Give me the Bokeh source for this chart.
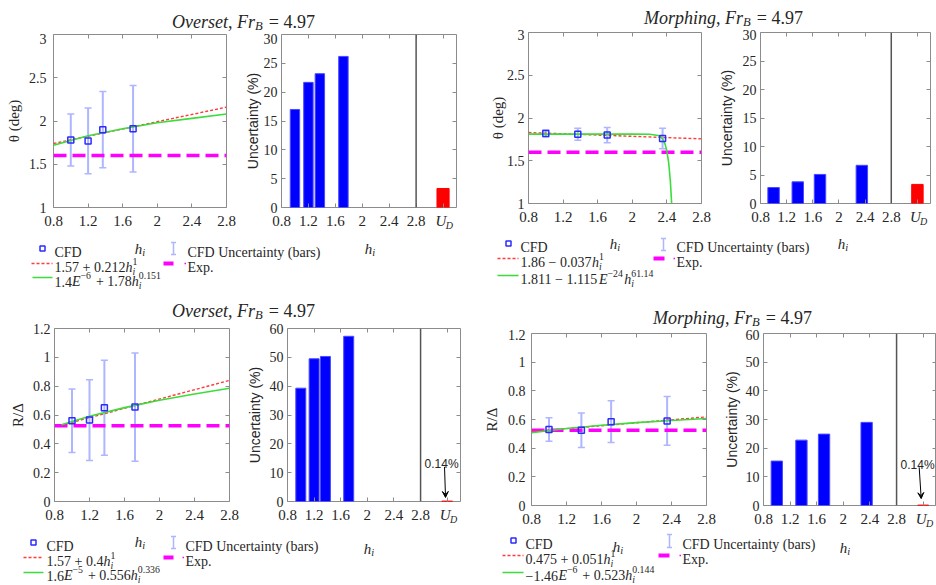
from bokeh.plotting import figure
from bokeh.layouts import row, column
from bokeh.models import (Range1d, FixedTicker, LinearAxis, Label, Whisker, TeeHead,
                          ColumnDataSource, Span, Arrow, VeeHead)
from bokeh.embed import file_html
from bokeh.resources import INLINE

# ---------------- data ----------------
ov_h = [1.0, 1.2, 1.37, 1.72]
ov_theta = [1.78, 1.77, 1.90, 1.91]
ov_theta_unc = [0.30, 0.38, 0.44, 0.50]
ov_theta_pct = [17.0, 21.7, 23.2, 26.2]
ov_theta_ud = [3.3]
ov_theta_fit1_h = [0.8, 2.8]
ov_theta_fit1 = [1.74, 2.16]
ov_theta_fit2_h = [0.8, 1.2, 1.6, 2.0, 2.4, 2.8]
ov_theta_fit2 = [1.72, 1.83, 1.91, 1.98, 2.03, 2.08]

mo_h = [1.0, 1.37, 1.71, 2.35]
mo_theta = [1.82, 1.81, 1.80, 1.76]
mo_theta_unc = [0.04, 0.07, 0.09, 0.12]
mo_theta_pct = [2.8, 3.8, 5.1, 6.7]
mo_theta_ud = [3.35]
mo_theta_fit1_h = [0.8, 2.8]
mo_theta_fit1 = [1.83, 1.756]
mo_theta_fit2_h = [0.8, 1.6, 2.0, 2.2, 2.3, 2.33, 2.35, 2.38, 2.4, 2.42, 2.44, 2.46]
mo_theta_fit2 = [1.811, 1.811, 1.811, 1.810, 1.796, 1.779, 1.756, 1.692, 1.613, 1.482, 1.263, 0.91]

ov_R = [0.56, 0.565, 0.65, 0.655]
ov_R_unc = [0.22, 0.28, 0.33, 0.375]
ov_R_pct = [39.3, 49.5, 50.3, 57.3]
ov_R_ud = [0.14]
ov_R_fit1_h = [0.88, 2.8]
ov_R_fit1 = [0.53, 0.84]
ov_R_fit2_h = [0.88, 1.2, 1.6, 2.0, 2.4, 2.8]
ov_R_fit2 = [0.533, 0.591, 0.651, 0.702, 0.746, 0.786]

mo_R = [0.53, 0.525, 0.585, 0.59]
mo_R_unc = [0.082, 0.12, 0.145, 0.17]
mo_R_pct = [15.5, 22.8, 24.9, 29.0]
mo_R_ud = [0.14]
mo_R_fit1_h = [0.8, 2.8]
mo_R_fit1 = [0.516, 0.618]
mo_R_fit2_h = [0.8, 1.2, 1.6, 2.0, 2.4, 2.8]
mo_R_fit2 = [0.507, 0.537, 0.560, 0.578, 0.593, 0.607]

exp_theta = 1.6
exp_R = 0.525

h_ticks = [0.8, 1.2, 1.6, 2.0, 2.4, 2.8]
h_tick_labels = ["0.8", "1.2", "1.6", "2", "2.4", "2.8"]
ud_tick = 3.2
grid_split = 2.8
theta_ticks = [1.0, 1.5, 2.0, 2.5, 3.0]
theta_tick_labels = ["1", "1.5", "2", "2.5", "3"]
R_ticks = [0.0, 0.2, 0.4, 0.6, 0.8, 1.0, 1.2]
R_tick_labels = ["0", "0.2", "0.4", "0.6", "0.8", "1", "1.2"]
pct30_ticks = [0, 5, 10, 15, 20, 25, 30]
pct60_ticks = [0, 10, 20, 30, 40, 50, 60]
ud_note = "0.14%"

# ---------------- styling ----------------
SERIF = "Liberation Serif"
SANS = "Liberation Sans"
TEXT = "#262626"
OUTLINE = "#8c8c8c"
MK = "#2b2bff"
ERR = "#aeb6ff"
RED = "#ff3b3b"
GREEN = "#3ddc3d"
MAGENTA = "#ff00ff"
BBLUE = "#0000ff"
BRED = "#ff0000"
XTICK_PX = 15
YTICK_PX = 14

REG = {c: 0.5 for c in "0123456789"}
REG.update({".": .25, ",": .25, " ": .25, "+": .564, "\u2212": .6, "=": .564, "E": .611})
ITA = {"O": .722, "v": .444, "e": .444, "r": .389, "s": .389, "t": .278, "F": .611,
       "B": .611, "M": .833, "o": .5, "p": .5, "h": .5, "i": .278, "n": .5, "g": .5,
       "E": .611, "U": .722, "D": .722, " ": .25}


def tw(s, it):
    t = ITA if it else REG
    return sum(t.get(c, 0.5) for c in s)


def lab(p, x, y, text, size, dx=0, dy=0, font=SERIF, style="normal", align="left", color=TEXT):
    p.add_layout(Label(x=x, y=y, x_offset=dx, y_offset=-dy, text=text, text_font=font,
                       text_font_size=f"{size:.1f}px", text_font_style=style,
                       text_color=color, text_align=align, text_baseline="alphabetic"))


def rich(p, x, y, pieces, size, align="left", dy=0):
    s = 0.7 * size

    def extra(sub, sup):
        if not (sub or sup):
            return 0
        return max(tw(sub, True) * s if sub else 0, tw(sup, False) * s if sup else 0) + 0.08 * size

    total = sum(tw(t, it) * size + extra(sb, sp) for t, it, sb, sp in pieces)
    dx = -total / 2 if align == "center" else 0
    for t, it, sub, sup in pieces:
        core = t.lstrip(" ")
        lead = (len(t) - len(core)) * 0.25 * size   # SVG drops leading blanks
        if core:
            lab(p, x, y, core, size, dx + lead, dy, style="italic" if it else "normal")
        dx += tw(t, it) * size
        if sub:
            lab(p, x, y, sub, s, dx, dy + 0.25 * size, style="italic")
        if sup:
            lab(p, x, y, sup, s, dx, dy - 0.42 * size)
        dx += extra(sub, sup)


def style_axis(ax, ticks, labels, standoff=4, size=XTICK_PX):
    ax.ticker = FixedTicker(ticks=ticks)
    ax.major_label_overrides = dict(zip(ticks, labels))
    ax.major_label_text_font = SERIF
    ax.major_label_text_font_size = f"{size}px"
    ax.major_label_text_color = TEXT
    ax.major_tick_in = 4
    ax.major_tick_out = 0
    ax.major_tick_line_color = OUTLINE
    ax.minor_tick_line_color = None
    ax.axis_line_color = None
    ax.major_label_standoff = standoff


def mirror(p, xt, yt, xend, yend):
    # tick marks on the top and right edges; fixed axes take no layout room
    for loc, t, fx in (("above", xt, yend), ("right", yt, xend)):
        ax = LinearAxis(fixed_location=fx, ticker=FixedTicker(ticks=t),
                        major_label_overrides={v: "" for v in t},
                        major_label_text_font_size="1px", major_tick_in=4, major_tick_out=0,
                        axis_line_color=None, minor_tick_line_color=None,
                        major_label_standoff=0, major_tick_line_color=OUTLINE)
        p.add_layout(ax, loc)


def stacked_label_axis(p, x, text, size, standoff, style="italic"):
    # tick-label-only axis stacked under the main one; the negative standoff
    # pulls its label up into the row of the main tick labels
    ax = LinearAxis(ticker=FixedTicker(ticks=[x]),
                    major_label_overrides={x: text}, major_label_text_font=SERIF,
                    major_label_text_font_size=f"{size}px", major_label_text_font_style=style,
                    major_label_text_color=TEXT, major_tick_line_color=None,
                    minor_tick_line_color=None, axis_line_color=None,
                    major_label_standoff=standoff)
    p.add_layout(ax, "below")


def blank(w, h):
    p = figure(width=w, height=h, x_range=Range1d(0, w), y_range=Range1d(h, 0),
               toolbar_location=None, output_backend="svg", x_axis_type=None,
               y_axis_type=None, min_border=0, outline_line_color=None)
    p.min_border_left = p.min_border_right = p.min_border_top = p.min_border_bottom = 0
    return p


def title_fig(w, h, word, cx, by):
    p = blank(w, h)
    rich(p, cx, by, [(word, True, None, None), (", ", False, None, None),
                     ("Fr", True, "B", None), (" = 4.97", False, None, None)], 18, align="center")
    return p


def line_fig(w, h, mb, yr, yticks, ylabels, ylabel, ystand, lstand,
             hh, yy, unc, f1h, f1, f2h, f2, ex):
    p = figure(width=w, height=h, x_range=Range1d(0.8, 2.8), y_range=Range1d(*yr),
               toolbar_location=None, output_backend="svg",
               min_border_left=mb[0], min_border_right=mb[1], min_border_top=mb[2],
               min_border_bottom=mb[3], outline_line_color=OUTLINE)
    p.grid.visible = False
    style_axis(p.below[0], h_ticks, h_tick_labels, standoff=8)
    style_axis(p.left[0], yticks, ylabels, standoff=ystand, size=YTICK_PX)
    ya = p.left[0]
    ya.axis_label = ylabel
    ya.axis_label_text_font = SERIF
    ya.axis_label_text_font_size = "15px"
    ya.axis_label_text_font_style = "normal"
    ya.axis_label_text_color = TEXT
    ya.axis_label_standoff = lstand
    mirror(p, h_ticks, yticks, 2.8, yr[1])
    stacked_label_axis(p, 2.0, " ", 1, -10, style="normal")
    src = ColumnDataSource(dict(h=hh, y=yy, lo=[a - b for a, b in zip(yy, unc)],
                                hi=[a + b for a, b in zip(yy, unc)]))
    p.add_layout(Whisker(source=src, base="h", lower="lo", upper="hi", line_color=ERR,
                         line_width=2,
                         lower_head=TeeHead(size=7, line_color=ERR, line_width=1.5),
                         upper_head=TeeHead(size=7, line_color=ERR, line_width=1.5)))
    p.add_layout(Span(location=ex, dimension="width", line_color=MAGENTA, line_width=3.5,
                      line_dash="13 6", level="underlay"))
    p.line(f1h, f1, line_color=RED, line_width=1.4, line_dash="3 2")
    p.line(f2h, f2, line_color=GREEN, line_width=1.6)
    p.scatter("h", "y", source=src, marker="square", size=6, line_color=MK,
              fill_color=None, line_width=1.5)
    return p


def bar_fig(w, h, mb, ymax, yticks, lstand, hh, pct, bw, ud, udw, note=None):
    p = figure(width=w, height=h, x_range=Range1d(0.8, 3.4), y_range=Range1d(0, ymax),
               toolbar_location=None, output_backend="svg",
               min_border_left=mb[0], min_border_right=mb[1], min_border_top=mb[2],
               min_border_bottom=mb[3], outline_line_color=OUTLINE)
    p.grid.visible = False
    style_axis(p.below[0], h_ticks + [ud_tick], h_tick_labels + [""], standoff=8)
    style_axis(p.left[0], yticks, [str(v) for v in yticks], standoff=4, size=YTICK_PX)
    ya = p.left[0]
    ya.axis_label = "Uncertainty (%)"
    ya.axis_label_text_font = SANS
    ya.axis_label_text_font_size = "14px"
    ya.axis_label_text_font_style = "normal"
    ya.axis_label_text_color = TEXT
    ya.axis_label_standoff = lstand
    mirror(p, h_ticks + [ud_tick], yticks, 3.4, ymax)
    stacked_label_axis(p, ud_tick - 0.03, "U", XTICK_PX, -22)
    stacked_label_axis(p, ud_tick + 0.095, "D", 10, -18)
    stacked_label_axis(p, 2.0, " ", 1, -10, style="normal")
    p.vbar(x=hh, top=pct, width=bw, fill_color=BBLUE, line_color="#4a4aff", line_width=1)
    p.vbar(x=[ud_tick], top=ud, width=udw, fill_color=BRED, line_color=BRED, line_width=1)
    p.add_layout(Span(location=grid_split, dimension="height", line_color="#555555",
                      line_width=1.5))
    if note:
        (tx, ty), (ax0, ay0), (ax1, ay1) = note
        lab(p, tx, ty, ud_note, 12, font=SANS, align="center")
        p.add_layout(Arrow(end=VeeHead(size=6, fill_color="black", line_color="black"),
                           x_start=ax0, y_start=ay0, x_end=ax1, y_end=ay1,
                           line_color="black", line_width=1))
    return p


def legend_fig(w, h, L, f2, f3):
    p = blank(w, h)
    rich(p, L["hl"][0], L["hl"][1], [("h", True, "i", None)], 15, align="center")
    rich(p, L["hb"][0], L["hb"][1], [("h", True, "i", None)], 15, align="center")
    cx, cy = L["cfd"]
    p.scatter([cx], [cy], marker="square", size=5, line_color=MK, fill_color=None, line_width=1.5)
    lab(p, L["tx1"], L["y1"], "CFD", 14)
    ex, e0, e1 = L["eb"]
    p.segment([ex, ex - 2.5, ex - 2.5], [e0, e0, e1], [ex, ex + 2.5, ex + 2.5], [e1, e0, e1],
              line_color=ERR, line_width=1.5)
    lab(p, L["tx2"], L["y1"], "CFD Uncertainty (bars)", 14)
    r0, r1, ry = L["red"]
    p.line([r0, r1], [ry, ry], line_color=RED, line_width=1.4, line_dash="3 2")
    rich(p, L["tx1"], L["y2"], f2, 14)
    m0, m1, my = L["mag"]
    p.line([m0, m1], [my, my], line_color=MAGENTA, line_width=4)
    d = L["dot"]
    p.line([d, d + 1.5], [my, my], line_color=MAGENTA, line_width=1.5)
    lab(p, L["tx2"], L["y2"], "Exp.", 14)
    g0, g1, gy = L["green"]
    p.line([g0, g1], [gy, gy], line_color=GREEN, line_width=1.6)
    rich(p, L["tx1"], L["y3"], f3, 14)
    return p


M = "\u2212"
# ---------------- top-left: Overset theta ----------------
tl = column(
    title_fig(470, 33, "Overset", 243, 21),
    row(line_fig(241, 200, (53, 15, 1, 24), (1, 3), theta_ticks, theta_tick_labels,
                 "\u03b8 (deg)", 7, 4, ov_h, ov_theta, ov_theta_unc, ov_theta_fit1_h,
                 ov_theta_fit1, ov_theta_fit2_h, ov_theta_fit2, exp_theta),
        bar_fig(229, 200, (40, 14, 1, 24), 30, pct30_ticks, 0, ov_h, ov_theta_pct,
                0.14, ov_theta_ud, 0.18)),
    legend_fig(470, 60, dict(hl=(140, 15), hb=(370, 15), cfd=(42, 15), tx1=54, y1=19,
                             eb=(173, 9, 21), tx2=187, red=(31, 52, 30), y2=34,
                             mag=(163, 173, 30), dot=184, green=(32, 52, 44), y3=48),
               [("1.57 + 0.212", False, None, None), ("h", True, "i", "1")],
               [("1.4", False, None, None), ("E", True, None, M + "6"),
                (" + 1.78", False, None, None), ("h", True, "i", "0.151")]))

# ---------------- top-right: Morphing theta ----------------
tr = column(
    title_fig(466, 29, "Morphing", 253, 17),
    row(line_fig(245, 200, (58, 14, 3, 24), (1, 3), theta_ticks, theta_tick_labels,
                 "\u03b8 (deg)", 4, -2, mo_h, mo_theta, mo_theta_unc, mo_theta_fit1_h,
                 mo_theta_fit1, mo_theta_fit2_h, mo_theta_fit2, exp_theta),
        bar_fig(221, 200, (43, 6, 3, 24), 30, pct30_ticks, 5, mo_h, mo_theta_pct,
                0.175, mo_theta_ud, 0.175)),
    legend_fig(466, 64, dict(hl=(145, 14), hb=(373, 14), cfd=(38, 14), tx1=50, y1=18,
                             eb=(193, 9, 21), tx2=206, red=(27, 48, 29), y2=33,
                             mag=(183, 194, 29), dot=203, green=(27, 48, 46), y3=50),
               [("1.86 " + M + " 0.037", False, None, None), ("h", True, "i", "1")],
               [("1.811 " + M + " 1.115", False, None, None), ("E", True, None, M + "24"),
                ("h", True, "i", "61.14")]))

# ---------------- bottom-left: Overset R ----------------
bl = column(
    title_fig(470, 29, "Overset", 243, 17),
    row(line_fig(241, 205, (54, 12, 6, 24), (0, 1.2), R_ticks, R_tick_labels,
                 "R/\u0394", 4, 4, ov_h, ov_R, ov_R_unc, ov_R_fit1_h, ov_R_fit1,
                 ov_R_fit2_h, ov_R_fit2, exp_R),
        bar_fig(229, 205, (46, 10, 6, 24), 60, pct60_ticks, 4, ov_h, ov_R_pct,
                0.15, ov_R_ud, 0.16,
                note=((3.115, 13.0), (3.16, 12.0), (3.175, 1.4)))),
    legend_fig(470, 58, dict(hl=(140, 14), hb=(369, 21), cfd=(33, 15), tx1=46, y1=19,
                             eb=(173, 9, 21), tx2=185, red=(23, 43, 30), y2=34,
                             mag=(163, 173, 30), dot=182, green=(23, 43, 45), y3=48),
               [("1.57 + 0.4", False, None, None), ("h", True, "i", "1")],
               [("1.6", False, None, None), ("E", True, None, M + "5"),
                (" + 0.556", False, None, None), ("h", True, "i", "0.336")]))

# ---------------- bottom-right: Morphing R ----------------
br = column(
    title_fig(466, 36, "Morphing", 262, 24),
    row(line_fig(250, 202, (61, 14, 4, 22), (0, 1.2), R_ticks, R_tick_labels,
                 "R/\u0394", 6, 5, mo_h, mo_R, mo_R_unc, mo_R_fit1_h, mo_R_fit1,
                 mo_R_fit2_h, mo_R_fit2, exp_R),
        bar_fig(216, 202, (43, 0, 4, 22), 60, pct60_ticks, 3, mo_h, mo_R_pct,
                0.17, mo_R_ud, 0.165,
                note=((3.116, 14.3), (3.14, 13.3), (3.17, 2.4)))),
    legend_fig(466, 54, dict(hl=(148, 15), hb=(375, 16), cfd=(43, 9), tx1=55, y1=13,
                             eb=(199, 3, 16), tx2=212, red=(32, 53, 24), y2=28,
                             mag=(188, 199, 24), dot=209, green=(32, 53, 41), y3=44),
               [("0.475 + 0.051", False, None, None), ("h", True, "i", "1")],
               [(M + "1.46", False, None, None), ("E", True, None, M + "6"),
                (" + 0.523", False, None, None), ("h", True, "i", "0.144")]))

page = column(row(tl, tr), row(bl, br))

open("out.html", "w").write(file_html(page, INLINE))
